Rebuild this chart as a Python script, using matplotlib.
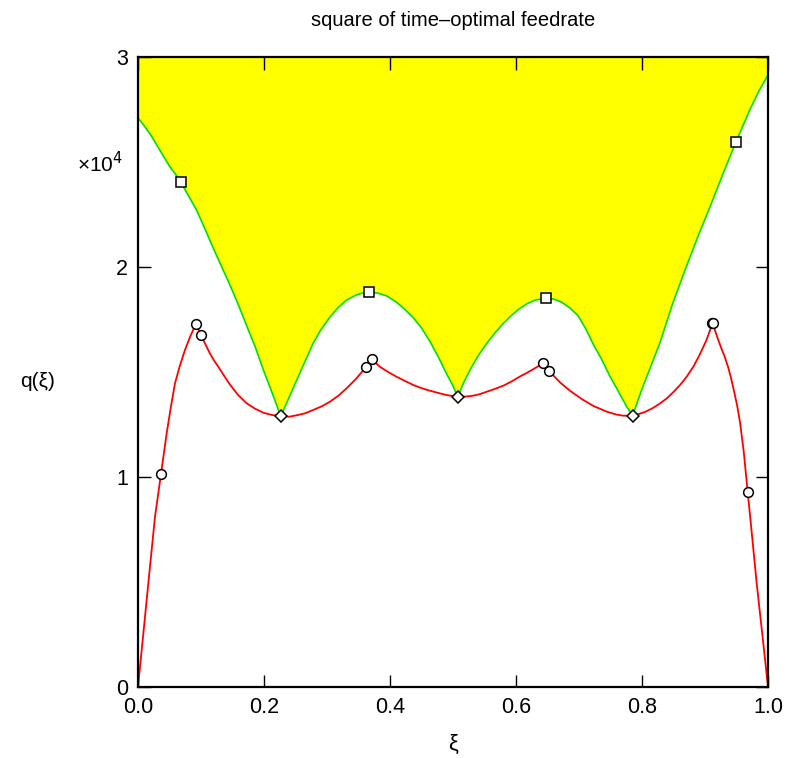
import numpy as np
import matplotlib
matplotlib.use("Agg")
import matplotlib.pyplot as plt

plt.rcParams['font.family'] = ['Liberation Sans', 'DejaVu Sans']

# values in units of 1e4 (axis shows x10^4)
green_xi = [0.0, 0.01, 0.02, 0.03, 0.04, 0.05, 0.06, 0.0683, 0.08, 0.093,
            0.105, 0.1196, 0.133, 0.146, 0.16, 0.1725, 0.186, 0.199, 0.213, 0.2265,
            0.24, 0.252, 0.265, 0.278, 0.29, 0.305, 0.318, 0.331, 0.345, 0.356,
            0.367, 0.38, 0.395, 0.41, 0.423, 0.437, 0.45, 0.4635, 0.477, 0.49,
            0.499, 0.5075, 0.517, 0.527, 0.54, 0.5535, 0.567, 0.58, 0.593, 0.606,
            0.618, 0.63, 0.6476, 0.66, 0.672, 0.685, 0.698, 0.71, 0.723, 0.736,
            0.749, 0.762, 0.7757, 0.785, 0.8, 0.815, 0.829, 0.848, 0.8683, 0.888,
            0.908, 0.928, 0.949, 0.971, 0.985, 1.0]
green_q = [2.71, 2.672, 2.63, 2.58, 2.53, 2.48, 2.44, 2.403, 2.34, 2.271,
           2.19, 2.089, 2.0, 1.914, 1.815, 1.72, 1.62, 1.51, 1.40, 1.29,
           1.38, 1.462, 1.55, 1.637, 1.70, 1.763, 1.808, 1.843, 1.865, 1.876,
           1.880, 1.876, 1.862, 1.833, 1.80, 1.758, 1.71, 1.645, 1.57, 1.49,
           1.44, 1.382, 1.45, 1.51, 1.578, 1.636, 1.688, 1.732, 1.77, 1.803,
           1.826, 1.842, 1.851, 1.847, 1.833, 1.806, 1.77, 1.71, 1.63, 1.56,
           1.48, 1.41, 1.335, 1.292, 1.42, 1.535, 1.644, 1.82, 1.986, 2.14,
           2.287, 2.44, 2.595, 2.748, 2.835, 2.914]

red_xi = [0.0, 0.008, 0.0164, 0.027, 0.0365, 0.0455, 0.052, 0.0587, 0.0665, 0.0746,
          0.083, 0.092, 0.100, 0.107, 0.113, 0.12, 0.1275, 0.136, 0.146, 0.159,
          0.1725, 0.186, 0.199, 0.213, 0.2265, 0.24, 0.252, 0.265, 0.278, 0.292,
          0.305, 0.318, 0.331, 0.346, 0.3614, 0.371, 0.384, 0.397, 0.41, 0.424,
          0.437, 0.45, 0.463, 0.477, 0.49, 0.5075, 0.52, 0.53, 0.542, 0.5535,
          0.567, 0.58, 0.593, 0.606, 0.618, 0.63, 0.643, 0.653, 0.661, 0.67,
          0.686, 0.705, 0.723, 0.745, 0.76, 0.77, 0.785, 0.795, 0.805, 0.817,
          0.829, 0.84, 0.85, 0.861, 0.871, 0.882, 0.892, 0.902, 0.912, 0.919,
          0.925, 0.931, 0.9365, 0.941, 0.946, 0.951, 0.9556, 0.9615, 0.9677, 0.975,
          0.982, 0.991, 1.0]
red_q = [0.0, 0.24, 0.494, 0.811, 1.014, 1.208, 1.33, 1.446, 1.53, 1.605,
         1.67, 1.729, 1.676, 1.632, 1.595, 1.558, 1.525, 1.485, 1.44, 1.39,
         1.351, 1.325, 1.306, 1.295, 1.29, 1.287, 1.294, 1.303, 1.319, 1.337,
         1.359, 1.387, 1.422, 1.467, 1.522, 1.560, 1.525, 1.50, 1.478, 1.457,
         1.438, 1.423, 1.411, 1.40, 1.390, 1.382, 1.383, 1.386, 1.394, 1.406,
         1.42, 1.435, 1.455, 1.478, 1.497, 1.518, 1.541, 1.505, 1.478, 1.450,
         1.410, 1.370, 1.338, 1.310, 1.297, 1.292, 1.292, 1.300, 1.310, 1.328,
         1.351, 1.376, 1.405, 1.44, 1.478, 1.528, 1.585, 1.65, 1.732, 1.67,
         1.62, 1.575, 1.525, 1.475, 1.41, 1.34, 1.26, 1.12, 0.930, 0.71,
         0.494, 0.25, 0.0]

sq_xi = [0.0683, 0.367, 0.6476, 0.949]
sq_q = [2.403, 1.880, 1.851, 2.595]
dia_xi = [0.2265, 0.5075, 0.785]
dia_q = [1.29, 1.382, 1.292]
circ_xi = [0.0365, 0.092, 0.100, 0.3614, 0.371, 0.643, 0.653, 0.911, 0.912, 0.9677]
circ_q = [1.014, 1.729, 1.676, 1.522, 1.560, 1.541, 1.505, 1.733, 1.732, 0.930]

fig = plt.figure(figsize=(7.89, 7.58), dpi=100)
ax = fig.add_axes([0.1749, 0.0937, 0.7985, 0.8311])

ax.fill_between(green_xi, green_q, 3, color='#ffff00', linewidth=0)
ax.plot(green_xi, green_q, color='#00e000', lw=1.2)
ax.plot(red_xi, red_q, color='red', lw=1.3)

mk = dict(linestyle='none', mfc='white', mec='black', mew=1.1)
ax.plot(sq_xi, sq_q, marker='s', ms=6.5, **mk)
ax.plot(dia_xi, dia_q, marker='D', ms=6.5, **mk)
ax.plot(circ_xi, circ_q, marker='o', ms=7, **mk)

ax.set_xlim(0, 1)
ax.set_ylim(0, 3)
ax.set_xticks([0, 0.2, 0.4, 0.6, 0.8, 1.0])
ax.set_xticklabels(['0.0', '0.2', '0.4', '0.6', '0.8', '1.0'])
ax.set_yticks([0, 1, 2, 3])
ax.set_yticklabels(['0', '1', '2', '3'])
ax.tick_params(direction='in', top=True, right=True, length=9, width=1,
               labelsize=15.5, pad=7)
for s in ax.spines.values():
    s.set_linewidth(1.6)

ax.set_title('square of time\u2013optimal feedrate', fontsize=14.5, pad=22)
ax.set_xlabel('\u03be', fontsize=16, labelpad=12)
ax.set_ylabel('q(\u03be)', fontsize=15, rotation=0, labelpad=0)
ax.yaxis.set_label_coords(-0.16, 0.47)
ax.text(-0.06, 0.83, '\u00d710$^4$', transform=ax.transAxes, fontsize=15,
        ha='center', va='center')

fig.savefig('out.png', dpi=100)
